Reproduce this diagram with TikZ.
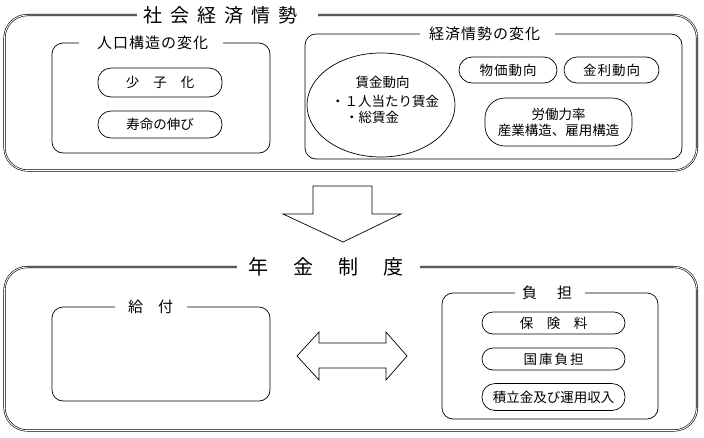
\documentclass[tikz,border=0pt]{standalone}
\usepackage{fontspec}
\setmainfont{Noto Sans CJK JP}
\usetikzlibrary{shapes.geometric}
\newcommand\gp[1]{\hspace*{#1pt}}
\newcommand\fs[1]{\fontsize{#1pt}{16pt}\selectfont}
\begin{document}
\begin{tikzpicture}[x=1pt,y=-1pt,
  frame/.style={draw, double, line width=0.6pt, double distance=0.9pt, rounded corners=23pt, inner sep=0pt},
  box/.style={draw, line width=0.7pt, rounded corners=11pt, inner sep=0pt},
  pill/.style={draw, line width=0.7pt, rounded corners=#1, inner sep=0pt, font=\fs{13.5}},
  ttl/.style={fill=white, anchor=west, inner xsep=0pt, inner ysep=1pt},
  blk/.style={draw, line width=0.7pt, line join=miter}]
\useasboundingbox (0,0) rectangle (704,437);

% ---------- social-economic frame ----------
\node[frame, minimum width=692.5pt, minimum height=155.5pt] (shakai) at (350.75,92.75) {};
\node[ttl, font=\fs{19}] (shakaiT) at (137,15) {\gp{6}社\gp{8}会\gp{8}経\gp{8}済\gp{8}情\gp{8}勢\gp{21}};

% population structure box
\node[box, minimum width=218pt, minimum height=110pt] (jinko) at (161,98) {};
\node[ttl, font=\fs{15}] (jinkoT) at (79,43) {\gp{18}人\gp{1}口\gp{1}構\gp{1}造\gp{1}の\gp{1}変\gp{1}化\gp{15}};
\node[pill=13pt, minimum width=124pt, minimum height=29pt] (shoshi) at (160,82.5) {少\gp{14}子\gp{14}化};
\node[pill=13pt, minimum width=124pt, minimum height=27pt] (jumyo) at (160,124.5) {寿命の伸び};

% economic situation box
\node[box, minimum width=377pt, minimum height=125pt] (keizai) at (493.5,96.5) {};
\node[ttl, font=\fs{15}] (keizaiT) at (420,34) {\gp{9}経\gp{1}済\gp{1}情\gp{1}勢\gp{1}の\gp{1}変\gp{1}化\gp{15}};
\node[draw, ellipse, line width=0.7pt, minimum width=148pt, minimum height=104pt, inner sep=0pt] (chingin) at (381,105) {};
\node[font=\fs{13.5}, inner sep=0pt] (c1) at (382.5,82) {賃金動向};
\node[font=\fs{13.5}, inner sep=0pt] (c2) at (385,101) {・１人当たり賃金};
\node[font=\fs{13.5}, inner sep=0pt] (c3) at (372,117) {・総賃金};
\node[pill=13pt, minimum width=98pt, minimum height=26pt] (bukka) at (508,70) {物\gp{1}価\gp{1}動\gp{1}向};
\node[pill=13pt, minimum width=95pt, minimum height=26pt] (kinri) at (611.5,70) {金\gp{1}利\gp{1}動\gp{1}向};
\node[pill=20pt, minimum width=147pt, minimum height=48pt, align=center] (rodo) at (558.5,122) {労働力率\\産業構造、雇用構造};

% ---------- down arrow ----------
\draw[blk] (313,186) -- (372,186) -- (372,214) -- (401,214) -- (343,242) -- (283,214) -- (313,214) -- cycle;

% ---------- pension frame ----------
\node[frame, minimum width=692.5pt, minimum height=163.5pt] (nenkin) at (350.75,348.75) {};
\node[ttl, font=\fs{20}] (nenkinT) at (237,267) {\gp{11}年\gp{25}金\gp{25}制\gp{25}度\gp{17}};

% benefits box
\node[box, minimum width=218pt, minimum height=94pt] (kyufu) at (161,354) {};
\node[ttl, font=\fs{15}] (kyufuT) at (115,307) {\gp{13}給\gp{15}付\gp{14}};

% double arrow
\draw[blk] (297,356) -- (319,332) -- (319,343) -- (386,343) -- (386,332) -- (407,356)
  -- (386,380) -- (386,368) -- (319,368) -- (319,380) -- cycle;

% burden box
\node[box, minimum width=216pt, minimum height=126pt] (futan) at (550,356) {};
\node[ttl, font=\fs{15}] (futanT) at (515,293) {\gp{7}負\gp{20}担\gp{13}};
\node[pill=11pt, minimum width=143pt, minimum height=22pt] (hoken) at (553.5,323) {保\gp{13.5}険\gp{13.5}料};
\node[pill=11pt, minimum width=143pt, minimum height=22pt] (kokko) at (553.5,359) {国\gp{2}庫\gp{2}負\gp{2}担};
\node[pill=13pt, minimum width=143pt, minimum height=27pt] (tsumitate) at (553.5,397) {積立金及び運用収入};
\end{tikzpicture}
\end{document}
